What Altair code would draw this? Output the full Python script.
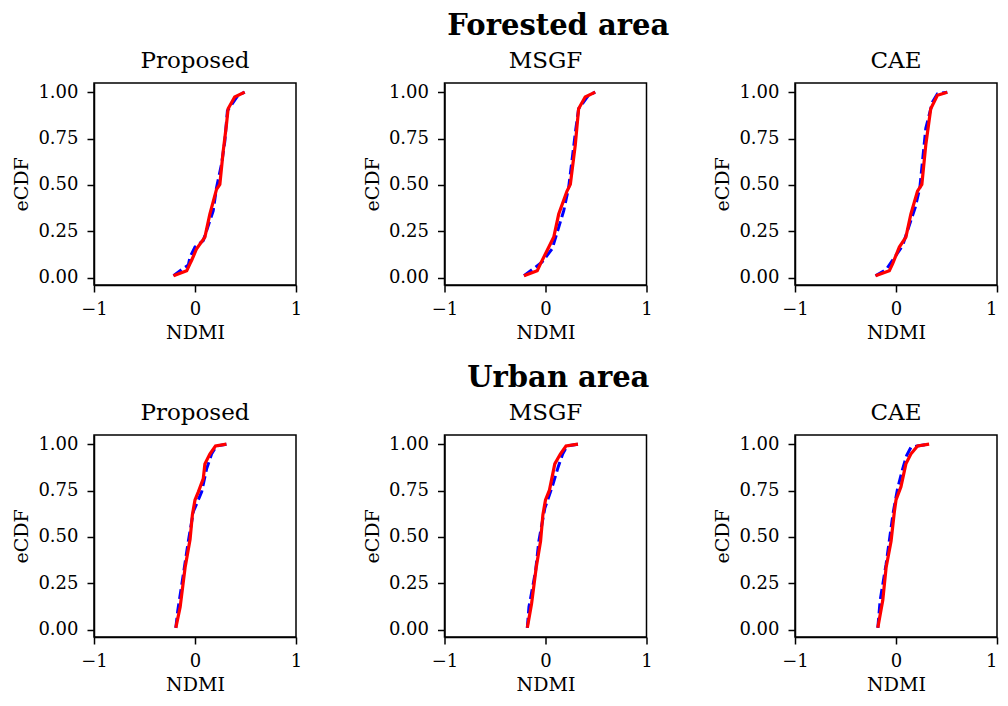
import altair as alt
import pandas as pd

row_titles = ["Forested area", "Urban area"]
methods = ["Proposed", "MSGF", "CAE"]
x_tick_count = 2          # gives ticks at -1, 0, 1
y_ticks = [0.0, 0.25, 0.5, 0.75, 1.0]

# ---- Forested area ----
forest_proposed_red_x = [-0.213, -0.082, -0.049, -0.033, 0.016, 0.098, 0.147, 0.213, 0.246, 0.279, 0.311, 0.328, 0.393, 0.492]
forest_proposed_red_y = [0.01, 0.037, 0.076, 0.094, 0.156, 0.219, 0.343, 0.476, 0.503, 0.681, 0.823, 0.911, 0.974, 1.0]
forest_proposed_blue_x = [-0.213, -0.115, -0.066, -0.049, 0.0, 0.082, 0.18, 0.213, 0.262, 0.295, 0.321, 0.426, 0.492]
forest_proposed_blue_y = [0.01, 0.05, 0.068, 0.112, 0.165, 0.2, 0.36, 0.485, 0.61, 0.734, 0.9, 0.983, 1.0]

forest_msgf_red_x = [-0.213, -0.082, -0.049, 0.033, 0.082, 0.131, 0.213, 0.246, 0.295, 0.328, 0.393, 0.492]
forest_msgf_red_y = [0.01, 0.037, 0.076, 0.165, 0.219, 0.343, 0.467, 0.503, 0.716, 0.911, 0.974, 1.0]
forest_msgf_blue_x = [-0.213, -0.115, -0.033, 0.066, 0.18, 0.229, 0.3, 0.328, 0.426, 0.492]
forest_msgf_blue_y = [0.01, 0.05, 0.085, 0.156, 0.36, 0.485, 0.8, 0.911, 0.983, 1.0]

forest_cae_red_x = [-0.203, -0.066, -0.033, 0.033, 0.098, 0.147, 0.213, 0.256, 0.295, 0.344, 0.41, 0.508]
forest_cae_red_y = [0.01, 0.037, 0.076, 0.165, 0.219, 0.343, 0.467, 0.503, 0.716, 0.911, 0.983, 1.0]
forest_cae_blue_x = [-0.203, -0.098, -0.033, 0.066, 0.19, 0.236, 0.295, 0.361, 0.41, 0.508]
forest_cae_blue_y = [0.01, 0.044, 0.094, 0.174, 0.378, 0.485, 0.805, 0.947, 0.991, 1.0]

# ---- Urban area ----
urban_proposed_red_x = [-0.19, -0.147, -0.098, -0.049, -0.026, 0.0, 0.033, 0.082, 0.098, 0.147, 0.203, 0.311]
urban_proposed_red_y = [0.01, 0.122, 0.335, 0.486, 0.619, 0.699, 0.743, 0.814, 0.894, 0.947, 0.99, 1.0]
urban_proposed_blue_x = [-0.19, -0.17, -0.115, -0.066, -0.016, 0.066, 0.115, 0.164, 0.213, 0.311]
urban_proposed_blue_y = [0.01, 0.105, 0.3, 0.477, 0.637, 0.743, 0.867, 0.947, 0.99, 1.0]

urban_msgf_red_x = [-0.18, -0.138, -0.092, -0.049, -0.026, 0.0, 0.039, 0.092, 0.147, 0.203, 0.321]
urban_msgf_red_y = [0.01, 0.14, 0.335, 0.477, 0.619, 0.699, 0.752, 0.894, 0.947, 0.99, 1.0]
urban_msgf_blue_x = [-0.18, -0.164, -0.098, -0.066, -0.007, 0.066, 0.125, 0.17, 0.213, 0.321]
urban_msgf_blue_y = [0.01, 0.122, 0.317, 0.477, 0.654, 0.77, 0.876, 0.947, 0.99, 1.0]

urban_cae_red_x = [-0.18, -0.131, -0.098, -0.049, -0.016, 0.0, 0.049, 0.098, 0.147, 0.213, 0.328]
urban_cae_red_y = [0.01, 0.158, 0.335, 0.477, 0.637, 0.699, 0.77, 0.894, 0.947, 0.99, 1.0]
urban_cae_blue_x = [-0.18, -0.157, -0.098, -0.049, -0.026, 0.016, 0.066, 0.105, 0.147, 0.213, 0.328]
urban_cae_blue_y = [0.01, 0.158, 0.353, 0.548, 0.637, 0.761, 0.867, 0.938, 0.982, 0.99, 1.0]

series = {
    ("Forested area", "Proposed"): (forest_proposed_blue_x, forest_proposed_blue_y, forest_proposed_red_x, forest_proposed_red_y),
    ("Forested area", "MSGF"): (forest_msgf_blue_x, forest_msgf_blue_y, forest_msgf_red_x, forest_msgf_red_y),
    ("Forested area", "CAE"): (forest_cae_blue_x, forest_cae_blue_y, forest_cae_red_x, forest_cae_red_y),
    ("Urban area", "Proposed"): (urban_proposed_blue_x, urban_proposed_blue_y, urban_proposed_red_x, urban_proposed_red_y),
    ("Urban area", "MSGF"): (urban_msgf_blue_x, urban_msgf_blue_y, urban_msgf_red_x, urban_msgf_red_y),
    ("Urban area", "CAE"): (urban_cae_blue_x, urban_cae_blue_y, urban_cae_red_x, urban_cae_red_y),
}

FONT = "DejaVu Serif"
PW, PH = 202, 202

xscale = alt.Scale(domain=[-1, 1], nice=False, zero=False)
yscale = alt.Scale(domain=[-0.0395, 1.0495], nice=False, zero=False)


def panel(row, method, last_col):
    bx, by, rx, ry = series[(row, method)]
    blue = pd.DataFrame({"NDMI": bx, "eCDF": by})
    red = pd.DataFrame({"NDMI": rx, "eCDF": ry})
    x_axis_kw = dict(tickCount=x_tick_count, format="d", title="NDMI",
                     labelFlush=False, labelOverlap=False,
                     labelPadding=8, titlePadding=5)
    if last_col:
        # keep the right-most label inside the page
        x_axis_kw["labelAlign"] = alt.expr("datum.value == 1 ? 'right' : 'center'")
    xenc = alt.X("NDMI:Q", scale=xscale, axis=alt.Axis(**x_axis_kw))
    yenc = alt.Y("eCDF:Q", scale=yscale,
                 axis=alt.Axis(values=y_ticks, format=".2f", title="eCDF",
                               labelFlush=False, labelOverlap=False,
                               labelPadding=9, titlePadding=6))
    b = alt.Chart(blue).mark_line(color="blue", strokeWidth=3, strokeDash=[10, 4.5]).encode(
        x=xenc, y=yenc, order="eCDF:Q")
    r = alt.Chart(red).mark_line(color="red", strokeWidth=3.2).encode(
        x=xenc, y=yenc, order="eCDF:Q")
    return alt.layer(b, r).properties(
        width=PW, height=PH,
        title=alt.TitleParams(method, font=FONT, fontSize=23, fontWeight="normal",
                              color="black", offset=10),
    )


def row_chart(row):
    return alt.hconcat(*[panel(row, m, i == len(methods) - 1) for i, m in enumerate(methods)],
                       spacing=148.5, bounds="flush").properties(
        title=alt.TitleParams(row, font=FONT, fontSize=29, fontWeight="bold",
                              color="black", anchor="middle", offset=8, dx=53)
    )


chart = alt.vconcat(row_chart(row_titles[0]), row_chart(row_titles[1]), spacing=21).properties(
    padding={"left": 4, "top": 4, "right": 0, "bottom": 0}
).configure(font=FONT).configure_axis(
    labelFont=FONT, labelFontSize=18, labelColor="black",
    titleFont=FONT, titleFontSize=19, titleFontWeight="normal", titleColor="black",
    tickColor="black", tickSize=7, tickWidth=1.5,
    domainColor="black", domainWidth=1.5, grid=False,
).configure_view(stroke="black", strokeWidth=1.5)

chart.save("out.html", embed_options={"renderer": "svg", "actions": False})
